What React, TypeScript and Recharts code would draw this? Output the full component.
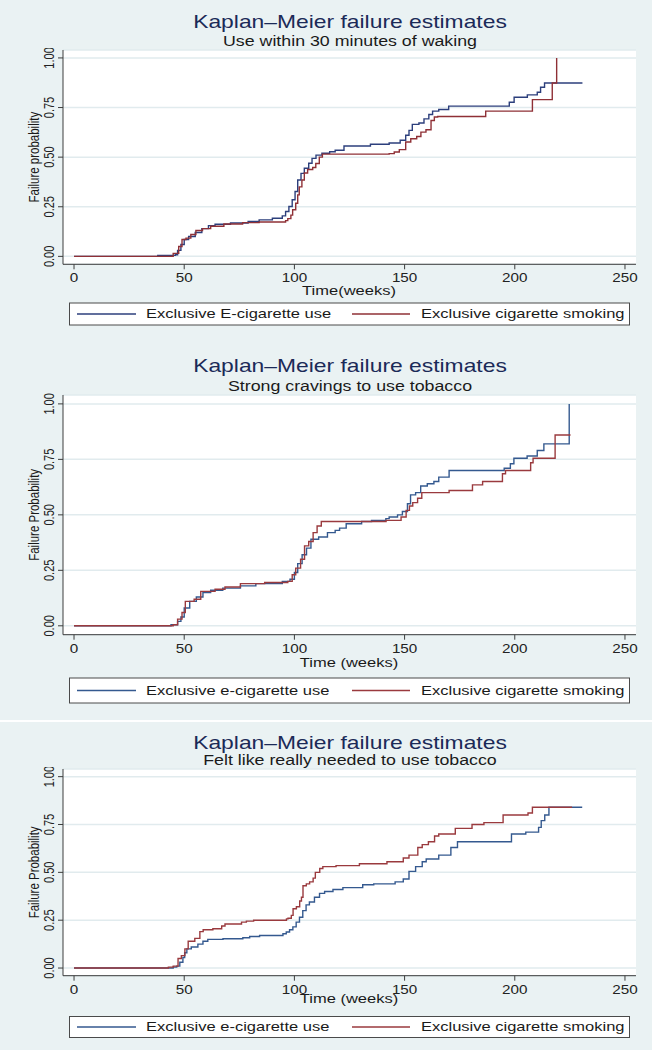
import React from "react";
import { LineChart, Line, XAxis, YAxis, CartesianGrid } from "recharts";

// Kaplan-Meier step points: [week, failure probability]
const ecigWaking: [number, number][] = [
  [0, 0], [38, 0.005], [46, 0.008], [47, 0.03], [48.5, 0.06], [50, 0.085], [52, 0.1], [55, 0.12],
  [58, 0.14], [61, 0.155], [64, 0.162], [71, 0.168], [79, 0.176], [84, 0.184], [90, 0.192],
  [94.5, 0.204], [96, 0.226], [97.5, 0.251], [99, 0.285], [100.3, 0.327], [101.5, 0.385],
  [103, 0.418], [104.5, 0.444], [106.5, 0.469], [108, 0.494], [109.8, 0.51], [112.5, 0.52],
  [116, 0.527], [118.5, 0.535], [122.5, 0.556], [134.5, 0.565], [143, 0.571], [148, 0.585],
  [150.5, 0.61], [152, 0.635], [153.5, 0.665], [156.5, 0.672], [158.8, 0.693], [161, 0.715],
  [162.7, 0.732], [165.5, 0.74], [170, 0.757], [197.5, 0.777], [199.7, 0.802], [205.7, 0.814],
  [210.2, 0.827], [211.7, 0.852], [213.5, 0.874], [230.7, 0.874],
];
const cigWaking: [number, number][] = [
  [0, 0], [45, 0.015], [47.5, 0.05], [49, 0.085], [50.8, 0.092], [53, 0.11], [55.3, 0.13],
  [58.3, 0.14], [62, 0.152], [68, 0.163], [76.5, 0.17], [84, 0.173], [96, 0.18], [97, 0.19],
  [98.4, 0.208], [99.2, 0.235], [100.6, 0.268], [101.5, 0.31], [102.2, 0.35], [103.4, 0.385],
  [104.5, 0.42], [106, 0.438], [108.3, 0.448], [109.7, 0.468], [111.3, 0.5], [112.7, 0.515],
  [143, 0.518], [145.3, 0.526], [147.6, 0.538], [150.5, 0.576], [152.8, 0.593], [155.5, 0.604],
  [157.4, 0.626], [159.7, 0.638], [162, 0.685], [163.5, 0.702], [165, 0.705], [186.8, 0.732],
  [208, 0.79], [217, 0.874], [219, 1.0],
];
const ecigCraving: [number, number][] = [
  [0, 0], [44, 0.005], [47, 0.02], [48.5, 0.04], [50, 0.08], [52.5, 0.11], [55.5, 0.13],
  [58.5, 0.15], [62, 0.16], [67.5, 0.17], [75.5, 0.18], [82.5, 0.19], [94.5, 0.2], [98, 0.21],
  [100, 0.24], [101.5, 0.28], [103.5, 0.32], [105.5, 0.35], [107.5, 0.39], [111, 0.4],
  [115, 0.42], [118.5, 0.43], [120.5, 0.44], [123.5, 0.46], [130.5, 0.47], [135, 0.475],
  [141.5, 0.483], [143, 0.49], [146.8, 0.5], [149, 0.515], [151.3, 0.55], [152.7, 0.59],
  [155, 0.6], [157.3, 0.63], [160.3, 0.64], [163.3, 0.65], [165.5, 0.67], [170.2, 0.7],
  [195.2, 0.71], [198, 0.73], [199.6, 0.755], [205.6, 0.765], [210.2, 0.79], [213.2, 0.82],
  [224.7, 1.0],
];
const cigCraving: [number, number][] = [
  [0, 0], [45, 0.005], [47, 0.03], [49, 0.06], [50.5, 0.11], [54.5, 0.12], [57.5, 0.155],
  [64, 0.165], [68.5, 0.175], [75.5, 0.19], [86.5, 0.195], [97, 0.2], [99, 0.23], [100.6, 0.26],
  [102.8, 0.3], [104.6, 0.36], [106.5, 0.38], [108.5, 0.42], [110.3, 0.45], [112.2, 0.47],
  [141.6, 0.475], [148.4, 0.49], [150.7, 0.52], [152.2, 0.54], [153.7, 0.555], [155.9, 0.575],
  [157.8, 0.6], [170.2, 0.61], [180.8, 0.635], [185.4, 0.65], [194.4, 0.685], [195.8, 0.7],
  [207.2, 0.735], [208.3, 0.755], [218.3, 0.86], [225.3, 0.86],
];
const ecigNeeded: [number, number][] = [
  [0, 0], [45, 0.005], [46.6, 0.01], [48, 0.03], [49.4, 0.055], [50.2, 0.08], [51.2, 0.1],
  [53.2, 0.11], [56.2, 0.125], [58.5, 0.14], [60.7, 0.15], [67.6, 0.153], [76.6, 0.158],
  [79.7, 0.165], [84.2, 0.17], [94.8, 0.179], [96.3, 0.188], [97.8, 0.2], [99.3, 0.215],
  [100.8, 0.24], [102.3, 0.265], [103.8, 0.3], [105.3, 0.33], [106.8, 0.345], [109.1, 0.37],
  [111.4, 0.39], [113.7, 0.4], [117.5, 0.41], [122, 0.42], [131, 0.435], [136, 0.44],
  [145.7, 0.45], [149.4, 0.465], [152, 0.505], [155, 0.53], [158, 0.555], [159.8, 0.57],
  [165.5, 0.59], [171, 0.63], [174, 0.66], [198.5, 0.7], [205, 0.71], [210.8, 0.735],
  [212, 0.77], [213.6, 0.8], [215.5, 0.84], [230.6, 0.84],
];
const cigNeeded: [number, number][] = [
  [0, 0], [42.8, 0.005], [45, 0.01], [47.2, 0.05], [48.7, 0.065], [50.3, 0.1], [51.8, 0.14],
  [54.8, 0.155], [57.1, 0.19], [58.6, 0.2], [63, 0.205], [67, 0.22], [68.5, 0.23], [76, 0.24],
  [78.2, 0.245], [81.5, 0.25], [96.4, 0.257], [97.1, 0.26], [98.6, 0.275], [99.4, 0.31],
  [100.9, 0.32], [102.4, 0.35], [103.2, 0.37], [103.9, 0.43], [105.4, 0.44], [106.9, 0.45],
  [108.5, 0.47], [109.5, 0.5], [111.5, 0.52], [112.9, 0.53], [118.9, 0.535], [129.5, 0.545],
  [142, 0.555], [149.4, 0.575], [152, 0.59], [156, 0.63], [158, 0.645], [160.8, 0.66],
  [163.6, 0.69], [165.5, 0.7], [173, 0.73], [180.6, 0.75], [186, 0.76], [194.7, 0.8],
  [206, 0.81], [208, 0.84], [226, 0.84],
];

const xTicks = [0, 50, 100, 150, 200, 250];
const yTicks = [0, 0.25, 0.5, 0.75, 1];
const mainTitle = "Kaplan\u2013Meier failure estimates";
const subtitles = [
  "Use within 30 minutes of waking",
  "Strong cravings to use tobacco",
  "Felt like really needed to use tobacco",
];
const yTitles = ["Failure probability", "Failure Probability", "Failure Probability"];
const xTitles = ["Time(weeks)", "Time (weeks)", "Time (weeks)"];
const ecigLabels = ["Exclusive E-cigarette use", "Exclusive e-cigarette use", "Exclusive e-cigarette use"];
const cigLabel = "Exclusive cigarette smoking";

const W = 652;
const H = 1050;
const SX = 1.27; // the source figure is stretched horizontally
const FONT = "'Liberation Sans', Arial, Helvetica, sans-serif";
const BG = "#EAF2F3";
const AXIS = "#3c3c3c";

const panels = [
  {
    ecig: ecigWaking, cig: cigWaking, blue: "#2c3f7c", red: "#8f3036",
    titleY: 21.5, subY: 41.5, top: 50, axis: 264.3, xTitleY: 290.5, legTop: 303, legBot: 325,
  },
  {
    ecig: ecigCraving, cig: cigCraving, blue: "#34598f", red: "#9a3a3e",
    titleY: 365, subY: 386, top: 395, axis: 634.7, xTitleY: 663, legTop: 678, legBot: 703,
  },
  {
    ecig: ecigNeeded, cig: cigNeeded, blue: "#34598f", red: "#9a3a3e",
    titleY: 742, subY: 760.5, top: 769, axis: 975.7, xTitleY: 999, legTop: 1016.5, legBot: 1037.5,
  },
];

const toRows = (pts: [number, number][]) => pts.map(([t, p]) => ({ t, p }));

function SText(props: {
  x: number; y: number; size: number; fill?: string; anchor?: "start" | "middle" | "end";
  rotate?: boolean; children: React.ReactNode;
}) {
  const { x, y, size, fill = "#1a1a1a", anchor = "middle", rotate = false, children } = props;
  return (
    <text
      transform={`translate(${x},${y}) scale(${SX},1)${rotate ? " rotate(-90)" : ""}`}
      textAnchor={anchor}
      dominantBaseline="central"
      fontSize={size}
      fontFamily={FONT}
      fill={fill}
    >
      {children}
    </text>
  );
}

function XTick(props: any) {
  const { x, y, payload } = props;
  return <SText x={x} y={y + 7} size={12} fill="#222">{payload.value}</SText>;
}

function YTick(props: any) {
  const { x, y, payload } = props;
  return (
    <SText x={x - 6} y={y} size={11} fill="#222" rotate>
      {Number(payload.value).toFixed(2)}
    </SText>
  );
}

function Panel({ idx }: { idx: number }) {
  const p = panels[idx];
  const plotH = p.axis - p.top;
  const mTop = 2;
  const xAxisH = 30;
  return (
    <div style={{ position: "absolute", left: 0, top: p.top - mTop }}>
      <LineChart
        width={W}
        height={mTop + plotH + xAxisH}
        margin={{ top: mTop, right: W - 636, bottom: 0, left: 0 }}
      >
        <CartesianGrid vertical={false} stroke="#e1ebee" strokeWidth={1.5} fill="#ffffff" />
        <XAxis
          type="number"
          dataKey="t"
          domain={[-5, 255]}
          ticks={xTicks}
          interval={0}
          allowDataOverflow
          height={xAxisH}
          tickSize={5}
          tickMargin={2}
          stroke={AXIS}
          tick={XTick}
        />
        <YAxis
          type="number"
          domain={[-0.04, 1.04]}
          ticks={yTicks}
          interval={0}
          allowDataOverflow
          width={63}
          tickSize={5}
          tickMargin={2}
          stroke={AXIS}
          tick={YTick}
        />
        <Line
          data={toRows(p.ecig)}
          dataKey="p"
          type="stepAfter"
          stroke={p.blue}
          strokeWidth={1.4}
          dot={false}
          isAnimationActive={false}
        />
        <Line
          data={toRows(p.cig)}
          dataKey="p"
          type="stepAfter"
          stroke={p.red}
          strokeWidth={1.4}
          dot={false}
          isAnimationActive={false}
        />
      </LineChart>
    </div>
  );
}

function Overlay() {
  return (
    <svg width={W} height={H} style={{ position: "absolute", left: 0, top: 0, pointerEvents: "none" }}>
      <line x1={0} x2={W} y1={721} y2={721} stroke="#ffffff" strokeWidth={2} />
      {panels.map((p, i) => {
        const legMid = (p.legTop + p.legBot) / 2;
        return (
          <g key={i}>
            <SText x={350} y={p.titleY} size={18} fill="#1b2a58">{mainTitle}</SText>
            <SText x={350} y={p.subY} size={14}>{subtitles[i]}</SText>
            <SText x={34} y={(p.top + p.axis) / 2} size={11.5} rotate>{yTitles[i]}</SText>
            <SText x={349} y={p.xTitleY} size={13}>{xTitles[i]}</SText>
            <rect
              x={69.5}
              y={p.legTop}
              width={560}
              height={p.legBot - p.legTop}
              fill="#ffffff"
              stroke="#4a4a4a"
              strokeWidth={1}
            />
            <line x1={77} x2={136} y1={legMid} y2={legMid} stroke={p.blue} strokeWidth={1.4} />
            <SText x={146} y={legMid} size={13} anchor="start">{ecigLabels[i]}</SText>
            <line x1={352} x2={410} y1={legMid} y2={legMid} stroke={p.red} strokeWidth={1.4} />
            <SText x={421} y={legMid} size={13} anchor="start">{cigLabel}</SText>
          </g>
        );
      })}
    </svg>
  );
}

export default function App() {
  return (
    <div style={{ position: "absolute", left: 0, top: 0, width: W, height: H, background: BG, overflow: "hidden" }}>
      {panels.map((_, i) => (
        <Panel key={i} idx={i} />
      ))}
      <Overlay />
    </div>
  );
}
